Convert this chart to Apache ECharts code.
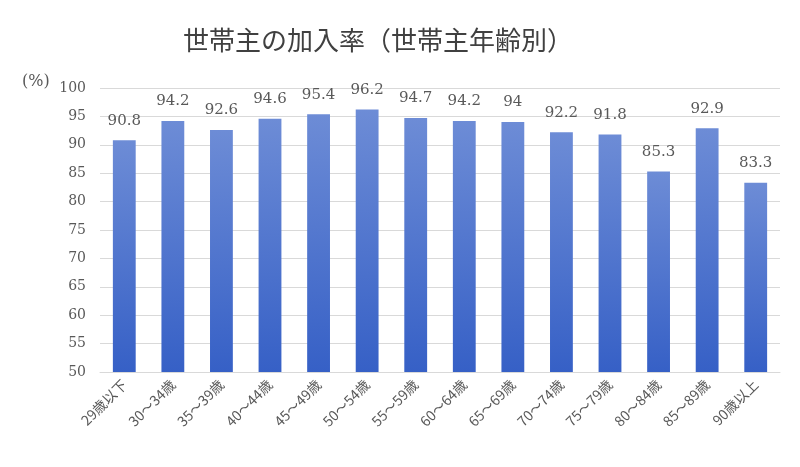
<!DOCTYPE html>
<html><head><meta charset="utf-8">
<script src="https://cdn.jsdelivr.net/npm/echarts@6/dist/echarts.min.js"></script>
<style>html,body{margin:0;padding:0;background:#fff}#c{width:800px;height:467px}</style>
</head><body><div id="c"></div>
<script>
const categories=['29歳以下','30～34歳','35～39歳','40～44歳','45～49歳','50～54歳','55～59歳','60～64歳','65～69歳','70～74歳','75～79歳','80～84歳','85～89歳','90歳以上'];
const values=[90.8,94.2,92.6,94.6,95.4,96.2,94.7,94.2,94,92.2,91.8,85.3,92.9,83.3];
const yTicks={min:50,max:100,interval:5};
const chart=echarts.init(document.getElementById('c'));
const font='"Noto Sans CJK JP","DejaVu Serif",serif';
chart.setOption({
  animation:false,
  title:{text:'世帯主の加入率（世帯主年齢別）',left:178,top:22,textStyle:{fontFamily:font,fontSize:26,fontWeight:'normal',color:'#404040'}},
  graphic:[{type:'text',left:22,top:74,style:{text:'(%)',font:'16px "DejaVu Serif",serif',fill:'#595959'}}],
  grid:{left:100,right:20,top:88,bottom:95},
  xAxis:{type:'category',data:categories,axisTick:{show:false},axisLine:{lineStyle:{color:'#d9d9d9'}},
    axisLabel:{rotate:45,interval:0,color:'#595959',fontSize:14,fontFamily:font,margin:10}},
  yAxis:{type:'value',min:yTicks.min,max:yTicks.max,interval:yTicks.interval,
    axisLine:{show:false},axisTick:{show:false},splitLine:{lineStyle:{color:'#d9d9d9'}},
    axisLabel:{color:'#595959',fontSize:14,fontFamily:'"DejaVu Serif",serif',margin:14}},
  series:[{type:'bar',data:values,barWidth:'47%',
    itemStyle:{color:new echarts.graphic.LinearGradient(0,0,0,1,[{offset:0,color:'#6d8cd6'},{offset:1,color:'#3660c6'}])},
    label:{show:true,position:'top',distance:12,color:'#595959',fontSize:15,fontFamily:'"DejaVu Serif",serif'}}]
});
</script></body></html>
